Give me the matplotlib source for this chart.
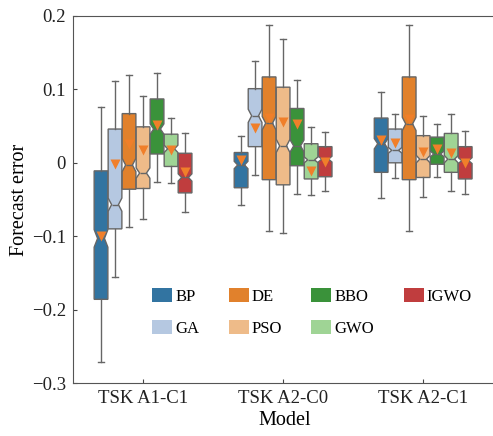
import matplotlib
matplotlib.use("Agg")
import matplotlib.pyplot as plt
import matplotlib.colors as mcolors
from matplotlib.patches import Patch
import numpy as np
import colorsys

plt.rcParams['font.family'] = ['Liberation Serif', 'DejaVu Serif']

models = ["TSK A1-C1", "TSK A2-C0", "TSK A2-C1"]
methods = ["BP", "GA", "DE", "PSO", "BBO", "GWO", "IGWO"]

# rows = models, columns = methods
whishi = [[0.076, 0.112, 0.119, 0.091, 0.123, 0.061, 0.040],
          [0.036, 0.139, 0.188, 0.168, 0.113, 0.049, 0.042],
          [0.097, 0.067, 0.188, 0.064, 0.053, 0.067, 0.043]]
q3 = [[-0.011, 0.046, 0.067, 0.049, 0.087, 0.039, 0.013],
      [0.014, 0.101, 0.117, 0.103, 0.074, 0.026, 0.022],
      [0.061, 0.046, 0.117, 0.037, 0.035, 0.040, 0.022]]
med = [[-0.103, -0.057, -0.003, -0.014, 0.046, 0.019, -0.020],
       [-0.003, 0.064, 0.054, 0.023, 0.023, 0.004, 0.005],
       [0.026, 0.017, 0.053, 0.005, 0.012, 0.005, 0.003]]
mean = [[-0.100, -0.001, 0.026, 0.018, 0.051, 0.017, -0.012],
        [0.004, 0.048, 0.061, 0.056, 0.053, -0.011, 0.001],
        [0.031, 0.027, 0.060, 0.015, 0.019, 0.014, 0.000]]
q1 = [[-0.186, -0.090, -0.036, -0.035, 0.012, -0.005, -0.041],
      [-0.034, 0.022, -0.023, -0.030, -0.004, -0.022, -0.019],
      [-0.013, 0.000, -0.023, -0.020, -0.002, -0.013, -0.022]]
whislo = [[-0.272, -0.155, -0.088, -0.077, -0.026, -0.027, -0.067],
          [-0.057, -0.016, -0.093, -0.096, -0.042, -0.044, -0.038],
          [-0.048, -0.021, -0.093, -0.047, -0.020, -0.039, -0.043]]
notch = [[0.012, 0.009, 0.009, 0.007, 0.007, 0.005, 0.005],
         [0.005, 0.009, 0.009, 0.009, 0.008, 0.004, 0.004],
         [0.007, 0.004, 0.009, 0.005, 0.004, 0.005, 0.004]]

base_colors = ["#1f77b4", "#aec7e8", "#ff7f0e", "#ffbb78", "#2ca02c", "#98df8a", "#d62728"]


def desaturate(c, s=0.75):
    r, g, b = mcolors.to_rgb(c)
    h, l, sat = colorsys.rgb_to_hls(r, g, b)
    return colorsys.hls_to_rgb(h, l, sat * s)


colors = [desaturate(c) for c in base_colors]

fig = plt.figure(figsize=(4.93, 4.36), dpi=100)
# right spine falls just outside the picture, as in the reference
ax = fig.add_axes([73 / 493, 53 / 436, 423 / 493, 367 / 436])
xmax = 2.5 + 0.02

width = 0.1
edge = "#666666"
for i in range(len(models)):
    for k in range(len(methods)):
        st = dict(whishi=whishi[i][k], q3=q3[i][k], med=med[i][k], mean=mean[i][k],
                  q1=q1[i][k], whislo=whislo[i][k],
                  cilo=med[i][k] - notch[i][k], cihi=med[i][k] + notch[i][k], fliers=[])
        pos = i + (k - 3) * width
        ax.bxp([st], positions=[pos], widths=width * 0.98, shownotches=True,
               showmeans=True, patch_artist=True,
               boxprops=dict(facecolor=colors[k], edgecolor=edge, linewidth=1.0),
               medianprops=dict(color=edge, linewidth=1.0),
               whiskerprops=dict(color=edge, linewidth=1.0),
               capprops=dict(color=edge, linewidth=1.0),
               capwidths=width * 0.4,
               meanprops=dict(marker="v", markerfacecolor="#f07f2a",
                              markeredgecolor="none", markersize=7))

ax.set_xlim(-0.5, xmax)
ax.set_ylim(-0.3, 0.2)
ax.spines["right"].set_visible(False)
ax.set_xticks(range(len(models)))
ax.set_xticklabels(models)
ax.set_yticks([-0.3, -0.2, -0.1, 0, 0.1, 0.2])
ax.set_yticklabels(["\u22120.3", "\u22120.2", "\u22120.1", "0", "0.1", "0.2"])
ax.tick_params(direction="in", labelsize=13.5, length=3, pad=5, colors="#444444", labelcolor="#222222")
for sp in ax.spines.values():
    sp.set_color("#555555")
ax.set_xlabel("Model", fontsize=14.5, labelpad=3)
ax.set_ylabel("Forecast error", fontsize=14.5, labelpad=2)

handles = [Patch(facecolor=colors[k], edgecolor="none", label=methods[k]) for k in range(len(methods))]
ax.legend(handles=handles, ncol=4, loc="lower center", bbox_to_anchor=(0.565, 0.085),
          frameon=False, fontsize=12, handlelength=1.2, handleheight=0.9,
          handletextpad=0.2, columnspacing=1.75, labelspacing=0.9)

plt.savefig("out.png", dpi=100)
plt.close()
